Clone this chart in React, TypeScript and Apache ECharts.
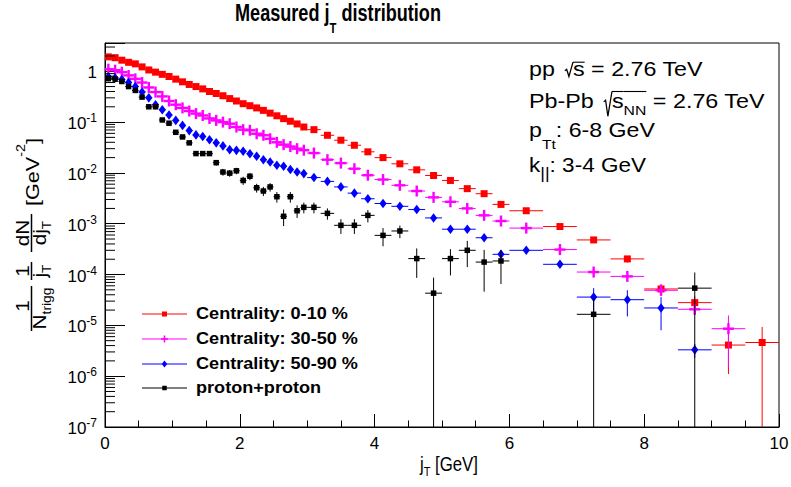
import React, { useEffect, useRef } from 'react';
import * as echarts from 'echarts';

// ---------------- data ----------------
const jtCenters = [
  0.05, 0.15, 0.25, 0.35, 0.45, 0.55, 0.65, 0.75, 0.85, 0.95,
  1.05, 1.15, 1.25, 1.35, 1.45, 1.55, 1.65, 1.75, 1.85, 1.95,
  2.05, 2.15, 2.25, 2.35, 2.45, 2.55, 2.65, 2.75, 2.85, 2.95,
  3.1, 3.3, 3.5, 3.7, 3.9,
  4.125, 4.375, 4.625, 4.875, 5.125, 5.375, 5.625, 5.875,
  6.25, 6.75, 7.25, 7.75, 8.25, 8.75, 9.25, 9.75,
];
const jtHalfWidths = [
  0.05, 0.05, 0.05, 0.05, 0.05, 0.05, 0.05, 0.05, 0.05, 0.05,
  0.05, 0.05, 0.05, 0.05, 0.05, 0.05, 0.05, 0.05, 0.05, 0.05,
  0.05, 0.05, 0.05, 0.05, 0.05, 0.05, 0.05, 0.05, 0.05, 0.05,
  0.1, 0.1, 0.1, 0.1, 0.1,
  0.125, 0.125, 0.125, 0.125, 0.125, 0.125, 0.125, 0.125,
  0.25, 0.25, 0.25, 0.25, 0.25, 0.25, 0.25, 0.25,
];

const central0to10 = [
  1.92, 1.85, 1.65, 1.50, 1.40, 1.22, 1.06, 0.96, 0.87, 0.79,
  0.70, 0.62, 0.55, 0.50, 0.45, 0.40, 0.365, 0.33, 0.29, 0.26,
  0.23, 0.21, 0.19, 0.17, 0.15, 0.133, 0.117, 0.104, 0.092, 0.080,
  0.071, 0.055, 0.044, 0.035, 0.026,
  0.020, 0.0151, 0.0115, 0.0089, 0.0071, 0.0049, 0.0039, 0.0024,
  0.0018, 0.00088, 0.00048, 0.000203, 5.2e-5, 2.8e-5, 4.1e-6, 4.6e-6,
];
const central0to10Err = [
  0.03, 0.03, 0.03, 0.025, 0.025, 0.02, 0.02, 0.02, 0.018, 0.016,
  0.014, 0.013, 0.012, 0.011, 0.010, 0.009, 0.008, 0.008, 0.007, 0.006,
  0.006, 0.005, 0.005, 0.005, 0.004, 0.004, 0.0035, 0.003, 0.003, 0.0027,
  0.002, 0.0017, 0.0014, 0.0012, 0.0009,
  0.0007, 0.0006, 0.0005, 0.0004, 0.00035, 0.0003, 0.00025, 0.0002,
  0.00012, 7e-5, 5e-5, 3e-5, 1.3e-5, 9e-6, 3e-6, 4.7e-6,
];

const central30to50 = [
  1.10, 1.05, 0.96, 0.83, 0.71, 0.60, 0.48, 0.39, 0.32, 0.26,
  0.22, 0.19, 0.165, 0.147, 0.135, 0.118, 0.108, 0.100, 0.093, 0.080,
  0.071, 0.069, 0.059, 0.055, 0.047, 0.040, 0.036, 0.033, 0.030, 0.028,
  0.0246, 0.0182, 0.0156, 0.0121, 0.0090,
  0.0074, 0.0057, 0.0044, 0.0033, 0.0027, 0.0020, 0.00146, 0.00113,
  0.00082, 0.00031, 0.000112, 9.2e-5, 4.9e-5, 2.07e-5, 8.6e-6, null,
];
const central30to50Err = [
  0.02, 0.02, 0.02, 0.016, 0.014, 0.012, 0.01, 0.008, 0.007, 0.006,
  0.005, 0.0045, 0.004, 0.0035, 0.003, 0.003, 0.0027, 0.0025, 0.0023, 0.002,
  0.0018, 0.0017, 0.0015, 0.0014, 0.0012, 0.0011, 0.001, 0.0009, 0.0008, 0.0008,
  0.0007, 0.0006, 0.0005, 0.0004, 0.0003,
  0.00025, 0.0002, 0.00017, 0.00014, 0.00012, 0.0001, 8e-5, 7e-5,
  5e-5, 2.5e-5, 1.2e-5, 1.8e-5, 1e-5, 4e-6, 7.1e-6, 0,
];

const central50to90 = [
  0.78, 0.74, 0.69, 0.60, 0.50, 0.39, 0.30, 0.22, 0.175, 0.138,
  0.108, 0.086, 0.068, 0.056, 0.052, 0.045, 0.039, 0.034, 0.0287, 0.0278,
  0.0266, 0.0239, 0.0212, 0.0182, 0.0164, 0.0141, 0.0135, 0.0117, 0.0104, 0.0097,
  0.0081, 0.0068, 0.0053, 0.0040, 0.0031,
  0.0025, 0.0022, 0.0019, 0.0013, 0.00078, 0.00078, 0.00053, 0.00025,
  0.0003, 0.000159, 3.6e-5, 3.2e-5, 2.2e-5, 3.3e-6, null, null,
];
const central50to90Err = [
  0.015, 0.015, 0.014, 0.012, 0.01, 0.008, 0.006, 0.005, 0.004, 0.003,
  0.0025, 0.002, 0.0016, 0.0014, 0.0013, 0.0012, 0.001, 0.0009, 0.0008, 0.0008,
  0.0007, 0.0007, 0.0006, 0.0005, 0.0005, 0.0004, 0.0004, 0.00035, 0.0003, 0.0003,
  0.00025, 0.0002, 0.00017, 0.00014, 0.00011,
  9e-5, 8e-5, 7e-5, 6e-5, 4e-5, 4e-5, 3.5e-5, 3e-5,
  3e-5, 1.8e-5, 1.8e-5, 1.7e-5, 1.4e-5, 1e-6, 0, 0,
];

const protonProton = [
  0.715, 0.70, 0.63, 0.50, 0.42, 0.31, 0.20, 0.20, 0.11, 0.095,
  0.063, 0.051, 0.039, 0.024, 0.024, 0.024, 0.0159, 0.0104, 0.0099, 0.0110,
  0.0071, 0.0086, 0.0051, 0.0044, 0.0053, 0.0034, 0.0014, 0.0034, 0.0018, 0.0021,
  0.0021, 0.0016, 0.00093, 0.00093, 0.00146,
  0.00059, 0.00072, 0.000206, 4.3e-5, 0.000206, 0.0003, 0.000176, 0.000185,
  null, null, 1.65e-5, null, null, 5.4e-5, null, null,
];
const protonProtonErr = [
  0.01, 0.01, 0.01, 0.009, 0.008, 0.007, 0.006, 0.006, 0.005, 0.005,
  0.004, 0.0035, 0.003, 0.0025, 0.0025, 0.0025, 0.002, 0.0016, 0.0015, 0.0016,
  0.0013, 0.0014, 0.001, 0.0009, 0.001, 0.0008, 0.0005, 0.0008, 0.0005, 0.0005,
  0.0005, 0.0004, 0.0003, 0.0003, 0.0004,
  0.00023, 0.0002, 0.00012, 4.4e-5, 0.00011, 0.00016, 0.00013, 0.00012,
  0, 0, 1.7e-5, 0, 0, 5.6e-5, 0, 0,
];

const seriesNames = ['Centrality: 0-10 %', 'Centrality: 30-50 %', 'Centrality: 50-90 %', 'proton+proton'];
const xTickLabels = ['0', '2', '4', '6', '8', '10'];

// ---------------- helpers ----------------
const FONT = '"Liberation Sans", Arial, Helvetica, sans-serif';

type Seg = { t: string; fs: number; dy?: number; bold?: boolean; ol?: number; rad?: { w: number; pad: number; top: number; bot: number } };

function buildLine(ctx: CanvasRenderingContext2D, segs: Seg[], o: any) {
  const color = o.color || '#000';
  const widths = segs.map((s) => {
    if (s.rad) return s.rad.w;
    ctx.font = `${s.bold ? 'bold ' : ''}${s.fs}px ${FONT}`;
    return ctx.measureText(s.t).width;
  });
  const total = widths.reduce((a, b) => a + b, 0);
  const sx = o.width ? o.width / total : o.scale || 1;
  let cx = o.align === 'center' ? -total / 2 : o.align === 'right' ? -total : 0;
  const children: any[] = [];
  segs.forEach((s, i) => {
    const w = widths[i];
    if (s.rad) {
      const r = s.rad;
      const a = cx + r.pad;
      const b = cx + w;
      const ww = b - a;
      children.push({
        type: 'polyline',
        shape: { points: [[a, -r.top * 0.38], [a + ww * 0.22, -r.top * 0.48], [a + ww * 0.5, r.bot], [b, -r.top]] },
        style: { stroke: color, lineWidth: 1.1, fill: 'none' },
      });
    } else {
      children.push({
        type: 'text',
        x: cx,
        y: (s.dy || 0) - 0.3465 * s.fs,
        style: {
          text: s.t, fontSize: s.fs, fontFamily: FONT, fontWeight: s.bold ? 'bold' : 'normal',
          fill: color, align: 'left', verticalAlign: 'middle',
        },
      });
    }
    if (s.ol) {
      children.push({ type: 'line', shape: { x1: cx, y1: -s.ol, x2: cx + w, y2: -s.ol }, style: { stroke: color, lineWidth: 1.1 } });
    }
    cx += w;
  });
  return { type: 'group', x: o.x, y: o.y, rotation: o.rot || 0, scaleX: sx, children, silent: true };
}

function marker(kind: string, cx: number, cy: number, color: string, s: number): any {
  if (kind === 'square') {
    return { type: 'rect', shape: { x: cx - s / 2, y: cy - s / 2, width: s, height: s }, style: { fill: color } };
  }
  if (kind === 'diamond') {
    return {
      type: 'polygon',
      shape: { points: [[cx, cy - s * 0.6], [cx + s * 0.45, cy], [cx, cy + s * 0.6], [cx - s * 0.45, cy]] },
      style: { fill: color },
    };
  }
  const t = Math.max(1.4, s * 0.22);
  return {
    type: 'group',
    children: [
      { type: 'rect', shape: { x: cx - s / 2, y: cy - t / 2, width: s, height: t }, style: { fill: color } },
      { type: 'rect', shape: { x: cx - t / 2, y: cy - s / 2, width: t, height: s }, style: { fill: color } },
    ],
  };
}

function buildData(values: (number | null)[], errors: number[]) {
  const out: number[][] = [];
  values.forEach((v, i) => {
    if (v == null) return;
    out.push([jtCenters[i], v, jtHalfWidths[i], errors[i] || 0]);
  });
  return out;
}

const defs = [
  { name: seriesNames[0], values: central0to10, errors: central0to10Err, color: '#ff0000', marker: 'square', size: 7, lsize: 5 },
  { name: seriesNames[1], values: central30to50, errors: central30to50Err, color: '#ff00ff', marker: 'cross', size: 11, lsize: 7 },
  { name: seriesNames[2], values: central50to90, errors: central50to90Err, color: '#0000ff', marker: 'diamond', size: 8, lsize: 6 },
  { name: seriesNames[3], values: protonProton, errors: protonProtonErr, color: '#000000', marker: 'square', size: 5.5, lsize: 4.5 },
];

export default function App() {
  const ref = useRef<HTMLDivElement>(null);
  useEffect(() => {
    if (!ref.current) return;
    const chart = echarts.init(ref.current, null, { renderer: 'svg' });
    const canvas = document.createElement('canvas');
    const ctx = canvas.getContext('2d') as CanvasRenderingContext2D;

    const series: any[] = defs.map((d) => ({
      type: 'custom',
      name: d.name,
      clip: true,
      encode: { x: 0, y: 1 },
      data: buildData(d.values, d.errors),
      renderItem: (params: any, api: any) => {
        const x = api.value(0), y = api.value(1), ex = api.value(2), ey = api.value(3);
        const cs = params.coordSys;
        const c = api.coord([x, y]);
        const xl = api.coord([x - ex, y])[0];
        const xr = api.coord([x + ex, y])[0];
        const yt = api.coord([x, y + ey])[1];
        const lo = y - ey;
        const yb = lo > 0 ? api.coord([x, lo])[1] : cs.y + cs.height + 20;
        const st = { stroke: d.color, lineWidth: 1 };
        return {
          type: 'group',
          children: [
            { type: 'line', shape: { x1: xl, y1: c[1], x2: xr, y2: c[1] }, style: st },
            { type: 'line', shape: { x1: c[0], y1: yt, x2: c[0], y2: yb }, style: st },
            marker(d.marker, c[0], c[1], d.color, d.size),
          ],
        };
      },
    }));

    // minor log ticks (2..9 x 10^n) on the y axis
    const minorVals: number[][] = [];
    for (let e = -7; e <= 0; e++) {
      for (let m = 2; m <= 9; m++) {
        const v = m * Math.pow(10, e);
        if (v < 3.6) minorVals.push([0, v]);
      }
    }
    series.push({
      type: 'custom',
      name: 'minorTicks',
      silent: true,
      clip: false,
      encode: { x: 0, y: 1 },
      data: minorVals,
      renderItem: (params: any, api: any) => {
        const p = api.coord([0, api.value(1)]);
        const cs = params.coordSys;
        return { type: 'line', shape: { x1: cs.x, y1: p[1], x2: cs.x + 10, y2: p[1] }, style: { stroke: '#000', lineWidth: 1 } };
      },
    });

    const R = Math.PI / 2;
    const graphics: any[] = [];
    // title
    graphics.push(buildLine(ctx, [
      { t: 'Measured j', fs: 24, bold: true },
      { t: 'T', fs: 15, bold: true, dy: 12 },
      { t: ' distribution', fs: 24, bold: true },
    ], { x: 235, y: 21, width: 206 }));

    // info text block
    graphics.push(buildLine(ctx, [
      { t: 'pp ', fs: 20 },
      { t: '', fs: 20, rad: { w: 10, pad: 3, top: 13.8, bot: 0.5 } },
      { t: 's', fs: 20, ol: 13.8 },
      { t: ' = 2.76 TeV', fs: 20 },
    ], { x: 529, y: 76, width: 174 }));
    graphics.push(buildLine(ctx, [
      { t: 'Pb-Pb ', fs: 20 },
      { t: '', fs: 20, rad: { w: 10, pad: 3, top: 16.8, bot: 8 } },
      { t: 's', fs: 20, ol: 16.8 },
      { t: 'NN', fs: 13.5, dy: 7, ol: 16.8 },
      { t: ' = 2.76 TeV', fs: 20 },
    ], { x: 529, y: 108.3, width: 236 }));
    graphics.push(buildLine(ctx, [
      { t: 'p', fs: 20 },
      { t: 'Tt', fs: 13.5, dy: 12 },
      { t: ': 6-8 GeV', fs: 20 },
    ], { x: 529, y: 136.7, width: 126 }));
    graphics.push(buildLine(ctx, [
      { t: 'k', fs: 20 },
      { t: '||', fs: 16, dy: 7 },
      { t: ': 3-4 GeV', fs: 20 },
    ], { x: 529, y: 172.7, width: 117 }));

    // legend
    const rowY = [314, 339, 364, 388];
    ctx.font = `bold 16px ${FONT}`;
    const legendScale = 152 / ctx.measureText(seriesNames[0]).width;
    defs.forEach((d, i) => {
      const y = rowY[i];
      graphics.push({ type: 'line', silent: true, shape: { x1: 142, y1: y, x2: 187, y2: y }, style: { stroke: d.color, lineWidth: 1 } });
      graphics.push({ ...marker(d.marker, 164.5, y, d.color, d.lsize), silent: true });
      graphics.push(buildLine(ctx, [{ t: d.name, fs: 16, bold: true }], { x: 196, y: y + 5.6, scale: legendScale }));
    });

    // x axis title
    graphics.push(buildLine(ctx, [
      { t: 'j', fs: 20 },
      { t: 'T', fs: 13, dy: 5 },
      { t: ' [GeV]', fs: 20 },
    ], { x: 420, y: 471, width: 58 }));

    // y axis title (rotated)
    graphics.push(buildLine(ctx, [
      { t: '[GeV', fs: 18 },
      { t: '-2', fs: 12, dy: -14 },
      { t: ']', fs: 18 },
    ], { x: 39, y: 206, rot: R, width: 68 }));
    const ys = 1.15;
    graphics.push(buildLine(ctx, [{ t: 'dN', fs: 18 }], { x: 28.5, y: 233, rot: R, align: 'center', scale: ys }));
    graphics.push({ type: 'line', silent: true, shape: { x1: 31.5, y1: 214, x2: 31.5, y2: 252 }, style: { stroke: '#000', lineWidth: 1.5 } });
    graphics.push(buildLine(ctx, [{ t: 'dj', fs: 18 }, { t: 'T', fs: 12, dy: 5 }], { x: 46, y: 233, rot: R, align: 'center', scale: ys }));

    graphics.push(buildLine(ctx, [{ t: '1', fs: 18 }], { x: 28.5, y: 271, rot: R, align: 'center', scale: ys }));
    graphics.push({ type: 'line', silent: true, shape: { x1: 31.5, y1: 262, x2: 31.5, y2: 280 }, style: { stroke: '#000', lineWidth: 1.5 } });
    graphics.push(buildLine(ctx, [{ t: 'j', fs: 18 }, { t: 'T', fs: 12, dy: 5 }], { x: 46, y: 271, rot: R, align: 'center', scale: ys }));

    graphics.push(buildLine(ctx, [{ t: '1', fs: 18 }], { x: 28.5, y: 306, rot: R, align: 'center', scale: ys }));
    graphics.push({ type: 'line', silent: true, shape: { x1: 31.5, y1: 286, x2: 31.5, y2: 331 }, style: { stroke: '#000', lineWidth: 1.5 } });
    graphics.push(buildLine(ctx, [{ t: 'N', fs: 18 }, { t: 'trigg', fs: 12, dy: 5 }], { x: 46, y: 308.5, rot: R, align: 'center', scale: ys }));

    const option: any = {
      animation: false,
      backgroundColor: '#ffffff',
      grid: {
        left: 105, top: 43, width: 674, height: 384,
        show: true, borderColor: '#000', borderWidth: 1, backgroundColor: 'transparent',
        containLabel: false, outerBoundsMode: 'none',
      },
      xAxis: {
        type: 'value', min: 0, max: 10, interval: 2,
        axisLine: { show: true, lineStyle: { color: '#000', width: 1 } },
        axisTick: { show: true, inside: true, length: 13, lineStyle: { color: '#000', width: 1 } },
        minorTick: { show: true, splitNumber: 4, length: 6.5, lineStyle: { color: '#000', width: 1 } },
        splitLine: { show: false },
        minorSplitLine: { show: false },
        axisLabel: {
          color: '#000', fontSize: 17, fontFamily: FONT, margin: 8,
          formatter: (v: number) => xTickLabels[Math.round(v / 2)] ?? '',
        },
      },
      yAxis: {
        type: 'log', logBase: 10, min: 1e-7, max: 3.6, interval: 1,
        axisLine: { show: true, lineStyle: { color: '#000', width: 1 } },
        axisTick: { show: true, inside: true, length: 20, lineStyle: { color: '#000', width: 1 } },
        splitLine: { show: false },
        axisLabel: {
          margin: 8,
          formatter: (v: number) => {
            const e = Math.round(Math.log10(v));
            if (Math.abs(v - Math.pow(10, e)) / v > 1e-4) return '';
            if (e === 0) return '{b|1}';
            return `{b|10}{s|${e}}`;
          },
          rich: {
            b: { fontSize: 17, fontFamily: FONT, color: '#000', lineHeight: 20, verticalAlign: 'bottom' },
            s: { fontSize: 12, fontFamily: FONT, color: '#000', lineHeight: 12, verticalAlign: 'top' },
          },
        },
      },
      series,
      graphic: { elements: graphics },
    };
    chart.setOption(option);
    return () => chart.dispose();
  }, []);
  return <div ref={ref} style={{ position: 'absolute', left: 0, top: 0, width: 791, height: 487, background: '#fff' }} />;
}
